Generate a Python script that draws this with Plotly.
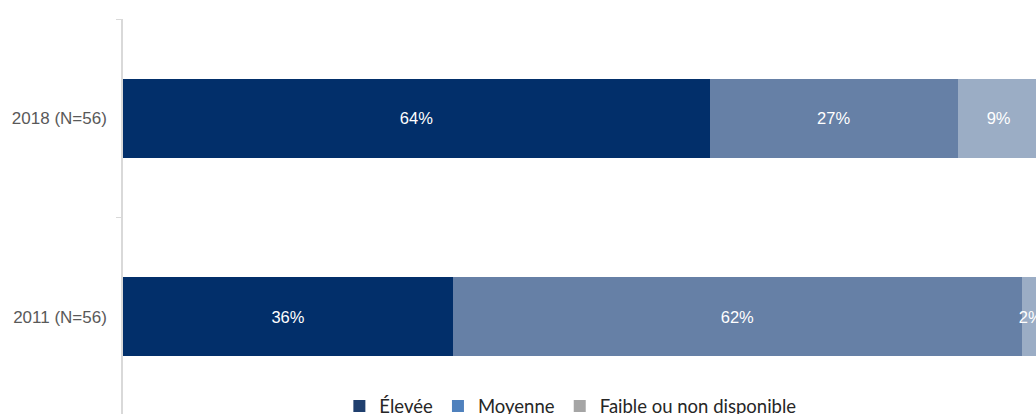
import plotly.graph_objects as go

# Survey waves, bottom to top
categories = ["2011 (N=56)", "2018 (N=56)"]

# Share of respondents per level (%)
series_names = ["Élevée", "Moyenne", "Faible ou non disponible"]
eleve = [36, 64]
moyenne = [62, 27]
faible = [2, 9]

bar_colors = ["#022f6a", "#6680a6", "#9badc5"]
legend_colors = ["#1f3f6e", "#4f81bd", "#a5a5a5"]

fig = go.Figure()

for name, vals, col in zip(series_names, [eleve, moyenne, faible], bar_colors):
    fig.add_trace(go.Bar(
        y=categories,
        x=vals,
        name=name,
        orientation="h",
        marker=dict(color=col, line=dict(width=0)),
        text=[f"{v}%" for v in vals],
        textposition="inside",
        insidetextanchor="middle",
        textangle=0,
        constraintext="none",
        textfont=dict(family="Liberation Sans, Arial, sans-serif", size=16.5, color="white"),
        showlegend=False,
        hoverinfo="skip",
    ))

# Legend entries with their own swatch colours
for name, col in zip(series_names, legend_colors):
    fig.add_trace(go.Scatter(
        x=[None], y=[None], mode="markers", name=name,
        marker=dict(symbol="square", size=9, color=col),
        showlegend=True,
    ))

fig.update_layout(
    width=1036,
    height=414,
    margin=dict(l=123, r=0, t=19, b=0, autoexpand=False),
    barmode="stack",
    bargap=0.6,
    plot_bgcolor="white",
    paper_bgcolor="white",
    xaxis=dict(
        range=[0, 99.56],
        visible=False,
        showgrid=False,
        zeroline=False,
    ),
    yaxis=dict(
        categoryorder="array",
        categoryarray=categories,
        range=[-0.49, 1.5],
        showline=True,
        linecolor="#d9d9d9",
        linewidth=1.5,
        ticks="outside",
        tickson="boundaries",
        ticklen=5,
        tickcolor="#d9d9d9",
        showgrid=False,
        zeroline=False,
        automargin=False,
        ticklabelstandoff=11,
        tickfont=dict(family="Liberation Sans, Arial, sans-serif", size=17, color="#595959"),
    ),
    legend=dict(
        orientation="h",
        traceorder="normal",
        x=0.49,
        xanchor="center",
        y=0.019,
        yanchor="middle",
        bgcolor="rgba(0,0,0,0)",
        font=dict(family="Lato, Open Sans, sans-serif", size=18.5, color="#262626"),
        itemsizing="constant",
        tracegroupgap=0,
    ),
    showlegend=True,
)

fig.write_html("out.html")
